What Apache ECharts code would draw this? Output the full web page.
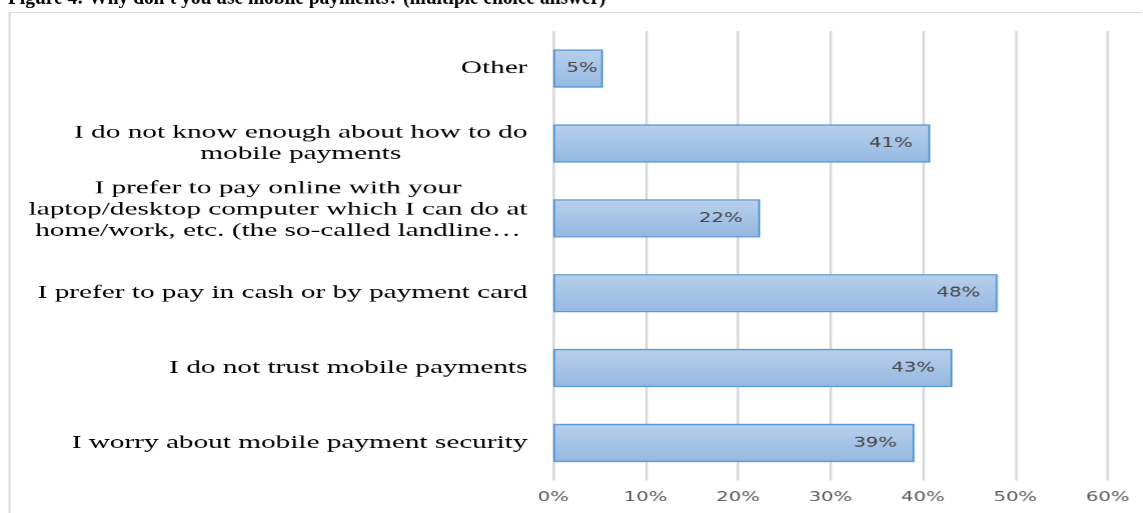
<!DOCTYPE html>
<html>
<head>
<meta charset="utf-8">
<script src="https://cdn.jsdelivr.net/npm/echarts@6/dist/echarts.min.js"></script>
<style>
  html, body { margin: 0; padding: 0; background: #ffffff; overflow: hidden; }
  #wrap { width: 1143px; height: 513px; overflow: hidden; position: relative; }
  /* the reference image is a horizontally stretched chart (about 1.6x) */
  #chart { width: 714.4px; height: 513px; transform: scaleX(1.6); transform-origin: 0 0; }
</style>
</head>
<body>
<div id="wrap"><div id="chart"></div></div>
<script>
// ---- data (top to bottom as in the reference) ----
const titleText = "Figure 4: Why don't you use mobile payments? (multiple choice answer)";
const categories = [
  "Other",
  "I do not know enough about how to do\nmobile payments",
  "I prefer to pay online with your\nlaptop/desktop computer which I can do at\nhome/work, etc. (the so-called landline\u2026",
  "I prefer to pay in cash or by payment card",
  "I do not trust mobile payments",
  "I worry about mobile payment security"
];
const values = [5.4, 40.8, 22.4, 48.1, 43.2, 39.1];   // percent
const axisMin = 0, axisMax = 60, axisStep = 10;

const STRETCH = 1.6;
const chart = echarts.init(document.getElementById('chart'), null, { renderer: 'canvas', devicePixelRatio: 1.6 });

const serif = "'Liberation Serif', 'Times New Roman', serif";
const narrow = "'Liberation Sans Narrow', 'Arial Narrow', 'DejaVu Sans Condensed', sans-serif";

// the long three-line label sits a little above its bar in the reference
const yData = categories.map((c, i) => i === 2
  ? { value: c, textStyle: { padding: [0, 0, 17, 0] } }
  : c);

// the short "Other" bar keeps its label closer to the bar end
const barData = values.map((v, i) => i === 0
  ? { value: v, label: { distance: 3.5 } }
  : v);

chart.setOption({
  backgroundColor: '#ffffff',
  animation: false,
  graphic: [
    {
      type: 'rect', silent: true, z: -10,
      shape: { x: 6, y: 12.5, width: 900, height: 700 },
      style: { fill: 'none', stroke: '#d9d9d9', lineWidth: 1.3 }
    },
    {
      type: 'text', silent: true,
      x: 8 / STRETCH, y: -1, scaleX: 1 / STRETCH,
      style: {
        text: titleText,
        font: "bold 19.4px 'Liberation Serif', 'Times New Roman', serif",
        fill: '#000000', align: 'left', verticalAlign: 'middle'
      }
    }
  ],
  grid: { left: 345.6, right: 21.9, top: 31, bottom: 33, containLabel: false },
  xAxis: {
    type: 'value', min: axisMin, max: axisMax, interval: axisStep,
    axisLine: { show: false }, axisTick: { show: false },
    splitLine: { show: true, lineStyle: { color: '#d9d9d9', width: 1.6 } },
    axisLabel: {
      margin: 10, color: '#595959', fontFamily: narrow, fontSize: 13.6,
      formatter: v => Math.round(v) + '%'
    }
  },
  yAxis: {
    type: 'category', inverse: true, data: yData,
    axisLine: { show: false }, axisTick: { show: false }, splitLine: { show: false },
    axisLabel: {
      margin: 16, color: '#000000', fontFamily: serif, fontSize: 18.3, lineHeight: 21.5,
      align: 'right',
      formatter: v => v.split('\n').map(s => '{c|' + s + '}').join('\n'),
      rich: { c: { align: 'center', fontFamily: serif, fontSize: 18.3, lineHeight: 21.5, color: '#000000' } }
    }
  },
  series: [{
    type: 'bar', data: barData, barCategoryGap: '49%',
    itemStyle: {
      color: new echarts.graphic.LinearGradient(0, 0, 0, 1, [
        { offset: 0, color: '#b9d0ec' },
        { offset: 1, color: '#95b8e1' }
      ]),
      borderColor: '#5b9bd5', borderWidth: 1.3
    },
    label: {
      show: true, position: 'insideRight', distance: 11,
      color: '#404040', fontFamily: narrow, fontSize: 13.6,
      formatter: p => Math.round(p.value) + '%'
    }
  }]
});
</script>
</body>
</html>
